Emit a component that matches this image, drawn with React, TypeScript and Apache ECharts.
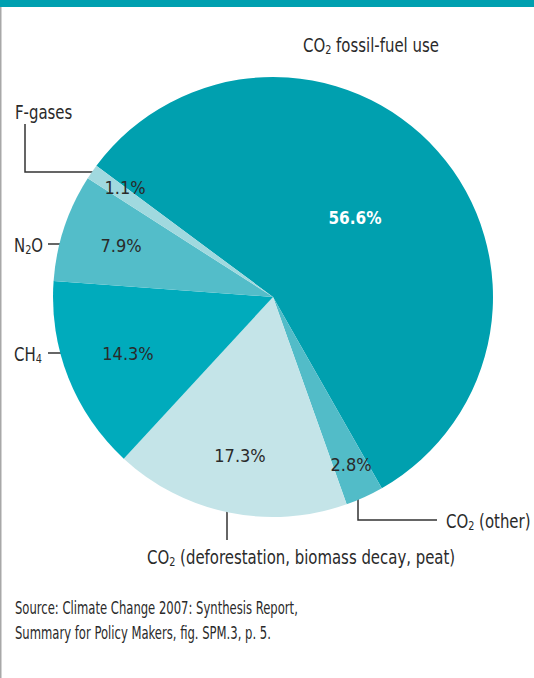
import React, { useEffect, useRef } from "react";
import * as echarts from "echarts";

const categories = [
  "CO2 fossil-fuel use",
  "CO2 (other)",
  "CO2 (deforestation, biomass decay, peat)",
  "CH4",
  "N2O",
  "F-gases",
];
const shares = [56.6, 2.8, 17.3, 14.3, 7.9, 1.1];
const colors = ["#00a0af", "#52bcc8", "#c4e4e8", "#00abbc", "#53bdc9", "#a0d9df"];
// label positions (layout only)
const labelPos: [number, number][] = [
  [355, 218],
  [351, 464],
  [240, 455],
  [128, 353],
  [121, 245],
  [125, 187],
];

const FONT = "'DejaVu Sans Condensed', 'Liberation Sans Narrow', Arial, sans-serif";
const INK = "#2a2a2a";
const SX = 0.83;

const rich = {
  m: { fontSize: 20, fontFamily: FONT, color: INK },
  s: { fontSize: 13, fontFamily: FONT, color: INK, padding: [10, 0, 0, 0] },
};

export default function App() {
  const ref = useRef<HTMLDivElement>(null);
  useEffect(() => {
    const chart = echarts.init(ref.current!, null, { renderer: "svg" });
    const txt = (x: number, y: number, text: string) => ({
      type: "text",
      x,
      y,
      scaleX: SX,
      style: { text, rich, align: "left", verticalAlign: "middle", fill: INK, font: `20px ${FONT}` },
    });
    const line = (pts: number[][]) => ({
      type: "polyline",
      shape: { points: pts },
      style: { stroke: "#333", lineWidth: 1.5, fill: null },
    });
    const src = (y: number, text: string) => ({
      type: "text",
      x: 15,
      y,
      scaleX: 0.76,
      style: { text, font: `17px ${FONT}`, fill: INK, verticalAlign: "middle" },
    });
    chart.setOption({
      animation: false,
      backgroundColor: "#ffffff",
      graphic: [
        { type: "rect", shape: { x: 0, y: 0, width: 534, height: 7 }, style: { fill: "#00a0b0" } },
        { type: "rect", shape: { x: 0, y: 7, width: 1.5, height: 671 }, style: { fill: "#a8a8a8" } },
        txt(303, 45, "{m|CO}{s|2}{m| fossil-fuel use}"),
        txt(15, 112, "{m|F-gases}"),
        line([[25, 124], [25, 172], [98, 172]]),
        txt(14, 245, "{m|N}{s|2}{m|O}"),
        line([[48, 244], [93, 244]]),
        txt(14, 354, "{m|CH}{s|4}"),
        line([[48, 353], [93, 353]]),
        line([[227, 470], [227, 540]]),
        txt(147, 557, "{m|CO}{s|2}{m| (deforestation, biomass decay, peat)}"),
        line([[358, 480], [358, 520], [437, 520]]),
        txt(446, 521, "{m|CO}{s|2}{m| (other)}"),
        src(608, "Source: Climate Change 2007: Synthesis Report,"),
        src(633, "Summary for Policy Makers, fig. SPM.3, p. 5."),
      ],
      series: [
        {
          type: "pie",
          center: [273, 297],
          radius: 220,
          startAngle: 143.4,
          clockwise: true,
          silent: true,
          label: {
            show: true,
            position: "inside",
            formatter: (p: any) => `${p.value.toFixed(1)}%`,
            fontFamily: FONT,
            fontSize: 18,
            color: INK,
          },
          labelLine: { show: false },
          labelLayout: (p: any) => ({
            x: labelPos[p.dataIndex][0],
            y: labelPos[p.dataIndex][1],
            align: "center",
            verticalAlign: "middle",
          }),
          data: categories.map((name, i) => ({
            name,
            value: shares[i],
            itemStyle: { color: colors[i] },
            label: i === 0 ? { color: "#ffffff", fontWeight: "bold", fontSize: 17 } : undefined,
          })),
        },
      ],
    });
    return () => chart.dispose();
  }, []);
  return (
    <div
      ref={ref}
      style={{ position: "fixed", left: 0, top: 0, width: 534, height: 678 }}
    />
  );
}
